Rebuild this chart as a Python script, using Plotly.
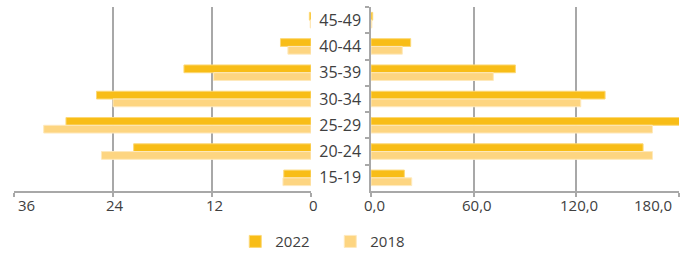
import plotly.graph_objects as go

age_groups = ["45-49", "40-44", "35-39", "30-34", "25-29", "20-24", "15-19"]
left_2022 = [0.2, 3.7, 15.4, 26.0, 29.7, 21.5, 3.3]
left_2018 = [0.1, 2.8, 11.8, 24.0, 32.4, 25.4, 3.4]
right_2022 = [1.0, 23.2, 84.4, 136.8, 182.0, 159.0, 19.5]
right_2018 = [0.5, 18.3, 71.5, 122.6, 164.5, 164.5, 23.8]
left_ticks = [36, 24, 12, 0]
right_ticks = [0, 60, 120, 180]
series_names = ["2022", "2018"]

C22 = "#F8BD17"
C18 = "#FDD581"
TXT = "#404040"
GRID = "#A8A8A8"
FONT = "Open Sans"

fig = go.Figure()
for name, lv, rv, col, edge in [
    (series_names[0], left_2022, right_2022, C22, "#FCD877"),
    (series_names[1], left_2018, right_2018, C18, "#FEE9BC"),
]:
    fig.add_trace(go.Bar(y=age_groups, x=lv, orientation="h", name=name,
                         marker=dict(color=col, line=dict(color=edge, width=1)),
                         xaxis="x", yaxis="y", legendgroup=name, showlegend=True))
    fig.add_trace(go.Bar(y=age_groups, x=rv, orientation="h", name=name,
                         marker=dict(color=col, line=dict(color=edge, width=1)),
                         xaxis="x2", yaxis="y2", legendgroup=name, showlegend=False))

axis_common = dict(showgrid=True, gridcolor=GRID, gridwidth=1.5, zeroline=False,
                   showline=True, linecolor=GRID, linewidth=1.5, ticks="outside",
                   ticklen=4, tickcolor=GRID, tickwidth=1.5, showticklabels=False,
                   fixedrange=True)

annotations = []
for i, v in enumerate(left_ticks):
    if i == 0:
        xa, xs = "left", 2
    else:
        xa, xs = "center", 2
    annotations.append(dict(x=v, xref="x", y=-0.075, yref="paper", text=str(v),
                            showarrow=False, xanchor=xa, yanchor="middle", xshift=xs,
                            font=dict(family=FONT, size=15, color=TXT)))
for i, v in enumerate(right_ticks):
    txt = f"{v:.1f}".replace(".", ",")
    if i == len(right_ticks) - 1:
        xa, xs = "right", -5
    else:
        xa, xs = "center", 3
    annotations.append(dict(x=v, xref="x2", y=-0.075, yref="paper", text=txt,
                            showarrow=False, xanchor=xa, yanchor="middle", xshift=xs,
                            font=dict(family=FONT, size=15, color=TXT)))

fig.update_layout(
    width=692, height=253,
    margin=dict(l=0, r=0, t=7, b=62, autoexpand=False),
    paper_bgcolor="white", plot_bgcolor="white",
    barmode="group", bargap=0.41, bargroupgap=0.0,
    font=dict(family=FONT, size=15, color=TXT),
    xaxis=dict(domain=[14/692, 311/692], range=[36, 0], tickvals=left_ticks, **axis_common),
    xaxis2=dict(domain=[371/692, 679/692], range=[0, 180], tickvals=right_ticks, **axis_common),
    yaxis=dict(anchor="x", autorange="reversed", showticklabels=False, showline=False,
               ticks="", showgrid=False, fixedrange=True),
    yaxis2=dict(anchor="x2", autorange="reversed", showticklabels=True, showline=True,
                linecolor=GRID, linewidth=1.5, ticks="outside", ticklen=4, tickcolor=GRID,
                tickwidth=1.5, tickson="boundaries", showgrid=False, fixedrange=True,
                ticklabelstandoff=5,
                tickfont=dict(family=FONT, size=16, color=TXT)),
    legend=dict(orientation="h", x=0.34, xanchor="left", xref="container",
                y=0.11, yanchor="top", yref="container",
                font=dict(family=FONT, size=15, color=TXT), traceorder="normal",
                entrywidth=50, entrywidthmode="pixels", bgcolor="rgba(0,0,0,0)"),
    annotations=annotations,
)

fig.write_html("out.html", config={"displayModeBar": False},
               post_script="document.body.style.margin='0';document.body.style.overflow='hidden';")
